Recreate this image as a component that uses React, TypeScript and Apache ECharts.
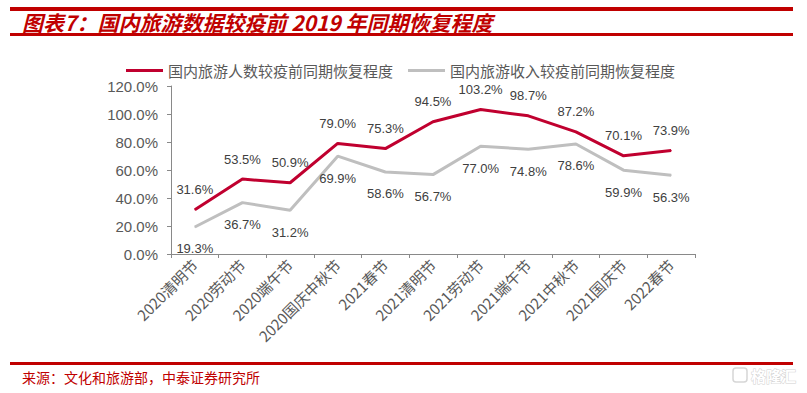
import React, { useEffect, useRef } from "react";
import * as echarts from "echarts";

const categories = [
  "2020清明节",
  "2020劳动节",
  "2020端午节",
  "2020国庆中秋节",
  "2021春节",
  "2021清明节",
  "2021劳动节",
  "2021端午节",
  "2021中秋节",
  "2021国庆节",
  "2022春节",
];
const touristRecovery = [31.6, 53.5, 50.9, 79.0, 75.3, 94.5, 103.2, 98.7, 87.2, 70.1, 73.9];
const revenueRecovery = [19.3, 36.7, 31.2, 69.9, 58.6, 56.7, 77.0, 74.8, 78.6, 59.9, 56.3];
const seriesNames = ["国内旅游人数较疫前同期恢复程度", "国内旅游收入较疫前同期恢复程度"];
const titleText = "图表7：国内旅游数据较疫前 2019 年同期恢复程度";
const sourceText = "来源：文化和旅游部，中泰证券研究所";

const RED = "#C00000";
const LINE_RED = "#C0002F";
const LINE_GRAY = "#BFBFBF";
const CJK = '"Noto Sans CJK SC", sans-serif';
const LATIN = '"Liberation Sans", Arial, sans-serif';

export default function App() {
  const ref = useRef<HTMLDivElement>(null);
  useEffect(() => {
    if (!ref.current) return;
    const chart = echarts.init(ref.current, undefined, { renderer: "svg" });
    const labelFmt = (p: any) => Number(p.value).toFixed(1) + "%";
    chart.setOption({
      animation: false,
      backgroundColor: "#ffffff",
      grid: { left: 171, right: 112, top: 86, bottom: 139, containLabel: false },
      legend: {
        left: 126,
        top: 63,
        padding: 0,
        itemWidth: 37,
        itemHeight: 3,
        itemGap: 15,
        icon: "rect",
        textStyle: {
          fontSize: 15,
          lineHeight: 15,
          color: "#595959",
          fontFamily: CJK,
          padding: [0, 0, 0, 0],
        },
        data: [
          { name: seriesNames[0], itemStyle: { color: LINE_RED } },
          { name: seriesNames[1], itemStyle: { color: LINE_GRAY } },
        ],
      },
      xAxis: {
        type: "category",
        data: categories,
        boundaryGap: true,
        axisLine: { show: true, lineStyle: { color: "#898989", width: 1 } },
        axisTick: { show: true, length: 4, lineStyle: { color: "#898989" } },
        axisLabel: {
          rotate: 45,
          interval: 0,
          fontSize: 15,
          color: "#595959",
          fontFamily: CJK,
          margin: 8,
        },
        splitLine: { show: false },
      },
      yAxis: {
        type: "value",
        min: 0,
        max: 120,
        interval: 20,
        axisLine: { show: true, lineStyle: { color: "#898989", width: 1 } },
        axisTick: { show: true, length: 4, lineStyle: { color: "#898989" } },
        axisLabel: {
          formatter: (v: number) => v.toFixed(1) + "%",
          fontSize: 15,
          color: "#595959",
          fontFamily: LATIN,
          margin: 13,
        },
        splitLine: { show: false },
      },
      series: [
        {
          name: seriesNames[0],
          type: "line",
          data: touristRecovery,
          symbol: "circle",
          symbolSize: 1,
          itemStyle: { color: LINE_RED },
          lineStyle: { color: LINE_RED, width: 3 },
          label: {
            show: true,
            position: "top",
            distance: 13,
            formatter: labelFmt,
            fontSize: 13,
            lineHeight: 13,
            color: "#404040",
            fontFamily: LATIN,
          },
          z: 3,
        },
        {
          name: seriesNames[1],
          type: "line",
          data: revenueRecovery,
          symbol: "circle",
          symbolSize: 1,
          itemStyle: { color: LINE_GRAY },
          lineStyle: { color: LINE_GRAY, width: 3 },
          label: {
            show: true,
            position: "bottom",
            distance: 15,
            formatter: labelFmt,
            fontSize: 13,
            color: "#404040",
            fontFamily: LATIN,
          },
          z: 2,
        },
      ],
      graphic: [
        { type: "rect", shape: { x: 10, y: 7, width: 783, height: 4 }, style: { fill: RED } },
        { type: "rect", shape: { x: 10, y: 33, width: 783, height: 3 }, style: { fill: RED } },
        {
          type: "text",
          x: 22,
          y: 22,
          style: {
            text: titleText,
            fill: RED,
            font: `italic bold 21px ${CJK}`,
            verticalAlign: "middle",
          },
        },
        { type: "rect", shape: { x: 10, y: 362, width: 783, height: 3 }, style: { fill: RED } },
        {
          type: "text",
          x: 22,
          y: 377,
          style: {
            text: sourceText,
            fill: RED,
            font: `14px ${CJK}`,
            verticalAlign: "middle",
          },
        },
        {
          type: "rect",
          shape: { x: 733, y: 368, width: 14, height: 14, r: 3 },
          style: { fill: "none", stroke: "#d6d6d6", lineWidth: 1.5 },
        },
        {
          type: "text",
          x: 751,
          y: 375,
          style: {
            text: "格隆汇",
            fill: "#ffffff",
            stroke: "#d0d0d0",
            lineWidth: 1,
            font: `bold 15px ${CJK}`,
            verticalAlign: "middle",
          },
        },
      ],
    });
    return () => chart.dispose();
  }, []);
  return (
    <div
      ref={ref}
      style={{ width: 807, height: 393, position: "fixed", left: 0, top: 0 }}
    />
  );
}
